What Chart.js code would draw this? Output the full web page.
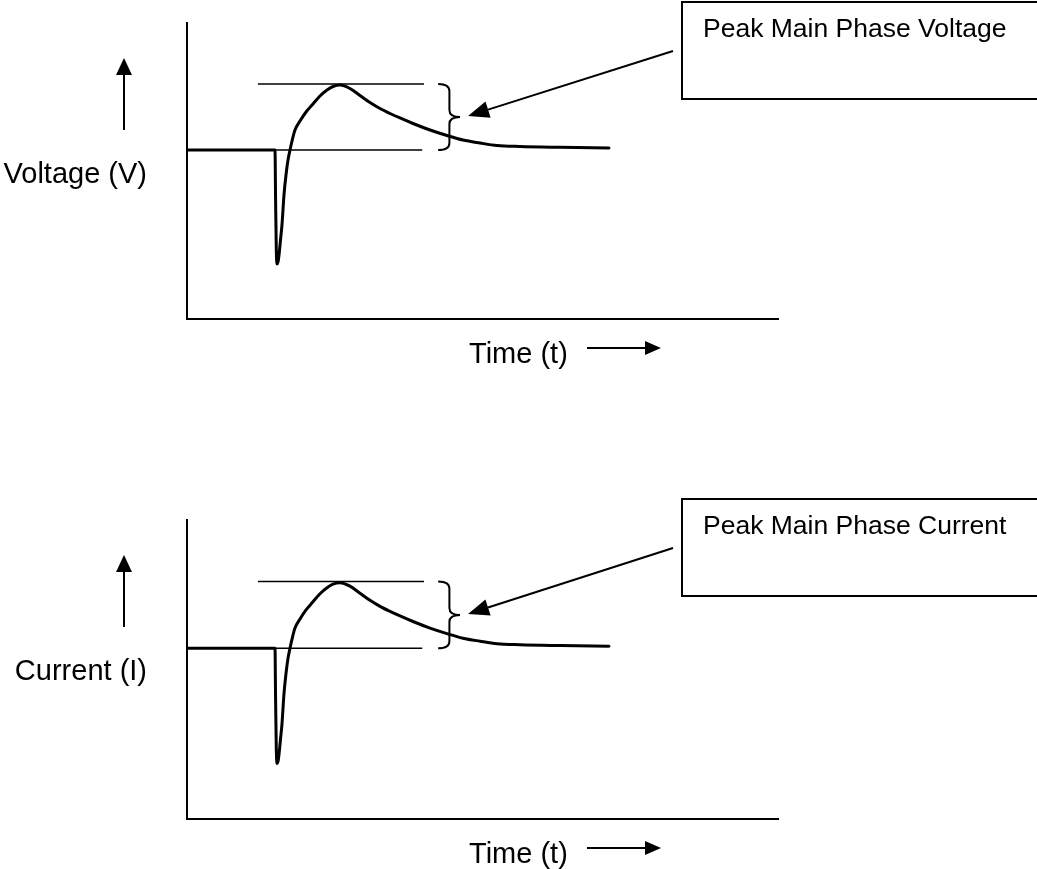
<!DOCTYPE html>
<html>
<head>
<meta charset="utf-8">
<title>Peak Main Phase Voltage / Current</title>
<script src="https://cdn.jsdelivr.net/npm/chart.js@4/dist/chart.umd.min.js"></script>
<style>
  html, body { margin: 0; padding: 0; background: #fff; }
  body { width: 1037px; height: 869px; position: relative; overflow: hidden; }
  .panel { position: absolute; left: 0; width: 1037px; }
  #panelTop { top: 0; height: 400px; }
  #panelBottom { top: 497px; height: 372px; }
</style>
</head>
<body>
<div class="panel" id="panelTop"><canvas id="chartVoltage" width="1037" height="400"></canvas></div>
<div class="panel" id="panelBottom"><canvas id="chartCurrent" width="1037" height="372"></canvas></div>

<script>
// ---- Datos (unidades arbitrarias: t 0..100, señal 0..100) ----
const timeVals   = [0, 14.89, 14.99, 15.11, 15.23, 15.40, 15.57, 15.82, 16.07, 16.41, 16.75,
                    17.09, 17.43, 17.77, 18.27, 19.12, 20.14, 21.32, 22.5, 23.69, 24.7, 25.89,
                    27.58, 29.27, 30.96, 32.66, 34.35, 36.04, 38.24, 41.12, 43.99, 46.7, 49.58,
                    52.45, 56.35, 63.11, 71.4];
const signalVals = [57.09, 57.09, 40.2, 23.31, 18.58, 19.26, 21.62, 26.69, 31.76, 41.89, 48.65,
                    53.72, 57.09, 60.14, 63.85, 66.89, 69.93, 72.64, 75.34, 77.36, 78.55, 79.05,
                    77.87, 75.51, 73.14, 71.11, 69.43, 67.91, 66.05, 63.85, 61.99, 60.47, 59.46,
                    58.61, 58.28, 58.01, 57.77];

// líneas de referencia (pico y nivel base)
const peakLineT  = [12.0, 40.1];
const peakLevel  = 79.4;
const baseLineT  = [0, 39.8];
const baseLevel  = 57.1;

// llave "}" entre ambos niveles: punta izq, tallo, punta der
const braceT     = [42.5, 44.4, 46.2];

const axisLabels    = ["Voltage (V)", "Current (I)"];
const calloutLabels = ["Peak Main Phase Voltage", "Peak Main Phase Current"];
const timeLabel     = "Time (t)";

const FONT = "'Liberation Sans', Arial, Helvetica, sans-serif";

/* ---------------------------------
   Helpers de dibujo
--------------------------------- */
function drawArrow(ctx, x1, y1, x2, y2, headLen, headHalf, lw) {
  const ang = Math.atan2(y2 - y1, x2 - x1);
  const bx = x2 - headLen * Math.cos(ang);
  const by = y2 - headLen * Math.sin(ang);
  ctx.lineWidth = lw;
  ctx.beginPath();
  ctx.moveTo(x1, y1);
  ctx.lineTo(bx, by);
  ctx.stroke();
  ctx.beginPath();
  ctx.moveTo(x2, y2);
  ctx.lineTo(bx + headHalf * Math.sin(ang), by - headHalf * Math.cos(ang));
  ctx.lineTo(bx - headHalf * Math.sin(ang), by + headHalf * Math.cos(ang));
  ctx.closePath();
  ctx.fill();
}

function drawBrace(ctx, x0, xs, xt, yT, yB) {
  const yM = (yT + yB) / 2;
  const r = 7;
  ctx.lineWidth = 2;
  ctx.beginPath();
  ctx.moveTo(x0, yT);
  ctx.quadraticCurveTo(xs, yT, xs, yT + r);
  ctx.lineTo(xs, yM - r);
  ctx.quadraticCurveTo(xs, yM, xt, yM);
  ctx.quadraticCurveTo(xs, yM, xs, yM + r);
  ctx.lineTo(xs, yB - r);
  ctx.quadraticCurveTo(xs, yB, x0, yB);
  ctx.stroke();
}

// plugin: anotaciones (llave, flecha, recuadro, etiquetas de ejes)
const annotPlugin = {
  id: "annot",
  afterDraw(chart, args, opts) {
    const ctx = chart.ctx;
    const xs = chart.scales.x, ys = chart.scales.y;
    const area = chart.chartArea;
    ctx.save();
    ctx.strokeStyle = "#000";
    ctx.fillStyle = "#000";

    // llave
    const yT = ys.getPixelForValue(peakLevel);
    const yB = ys.getPixelForValue(baseLevel);
    const bx0 = xs.getPixelForValue(braceT[0]);
    const bxs = xs.getPixelForValue(braceT[1]);
    const bxt = xs.getPixelForValue(braceT[2]);
    drawBrace(ctx, bx0, bxs, bxt, yT, yB);

    // recuadro del callout
    const boxTop = opts.boxTop;
    ctx.lineWidth = 2;
    ctx.strokeRect(682, boxTop, 400, 97);
    ctx.font = "26.5px " + FONT;
    ctx.textBaseline = "alphabetic";
    ctx.textAlign = "left";
    ctx.fillText(opts.callout, 703, boxTop + 35);

    // flecha del recuadro a la llave
    const yM = (yT + yB) / 2;
    drawArrow(ctx, 673, boxTop + 49, bxt + 8, yM - 1, 21, 8.5, 2);

    // etiqueta eje Y + flecha hacia arriba
    ctx.font = "29px " + FONT;
    ctx.textAlign = "right";
    ctx.fillText(opts.axisLabel, 147, area.top + 160);
    drawArrow(ctx, 124, area.top + 107, 124, area.top + 35, 17, 8, 2);

    // etiqueta eje X + flecha hacia la derecha
    ctx.textAlign = "left";
    ctx.fillText(timeLabel, 469, area.bottom + 44);
    drawArrow(ctx, 587, area.bottom + 29, 661, area.bottom + 29, 16, 7, 2);

    ctx.restore();
  }
};

/* ---------------------------------
   Construcción de cada gráfica
--------------------------------- */
function buildChart(canvasId, idx, padBottom) {
  const ctx = document.getElementById(canvasId).getContext("2d");
  const curve = timeVals.map((t, i) => ({ x: t, y: signalVals[i] }));
  return new Chart(ctx, {
    type: "line",
    data: {
      datasets: [
        {
          label: "peak",
          data: peakLineT.map(t => ({ x: t, y: peakLevel })),
          borderColor: "#000",
          borderWidth: 1.5,
          pointRadius: 0
        },
        {
          label: "base",
          data: baseLineT.map(t => ({ x: t, y: baseLevel })),
          borderColor: "#000",
          borderWidth: 1.5,
          pointRadius: 0
        },
        {
          label: "signal",
          data: curve,
          borderColor: "#000",
          borderWidth: 3,
          pointRadius: 0,
          cubicInterpolationMode: "monotone",
          borderJoinStyle: "round",
          borderCapStyle: "round"
        }
      ]
    },
    options: {
      responsive: false,
      animation: false,
      devicePixelRatio: 1,
      layout: { padding: { left: 187, right: 259, top: 23, bottom: padBottom } },
      scales: {
        x: {
          type: "linear", min: 0, max: 100,
          grid: { display: false, drawTicks: false },
          ticks: { display: false },
          border: { display: true, color: "#000", width: 2 }
        },
        y: {
          type: "linear", min: 0, max: 100,
          grid: { display: false, drawTicks: false },
          ticks: { display: false },
          border: { display: true, color: "#000", width: 2 }
        }
      },
      plugins: {
        legend: { display: false },
        tooltip: { enabled: false },
        annot: {
          boxTop: 2,
          callout: calloutLabels[idx],
          axisLabel: axisLabels[idx]
        }
      }
    },
    plugins: [annotPlugin]
  });
}

buildChart("chartVoltage", 0, 81);
buildChart("chartCurrent", 1, 50);
</script>
</body>
</html>
